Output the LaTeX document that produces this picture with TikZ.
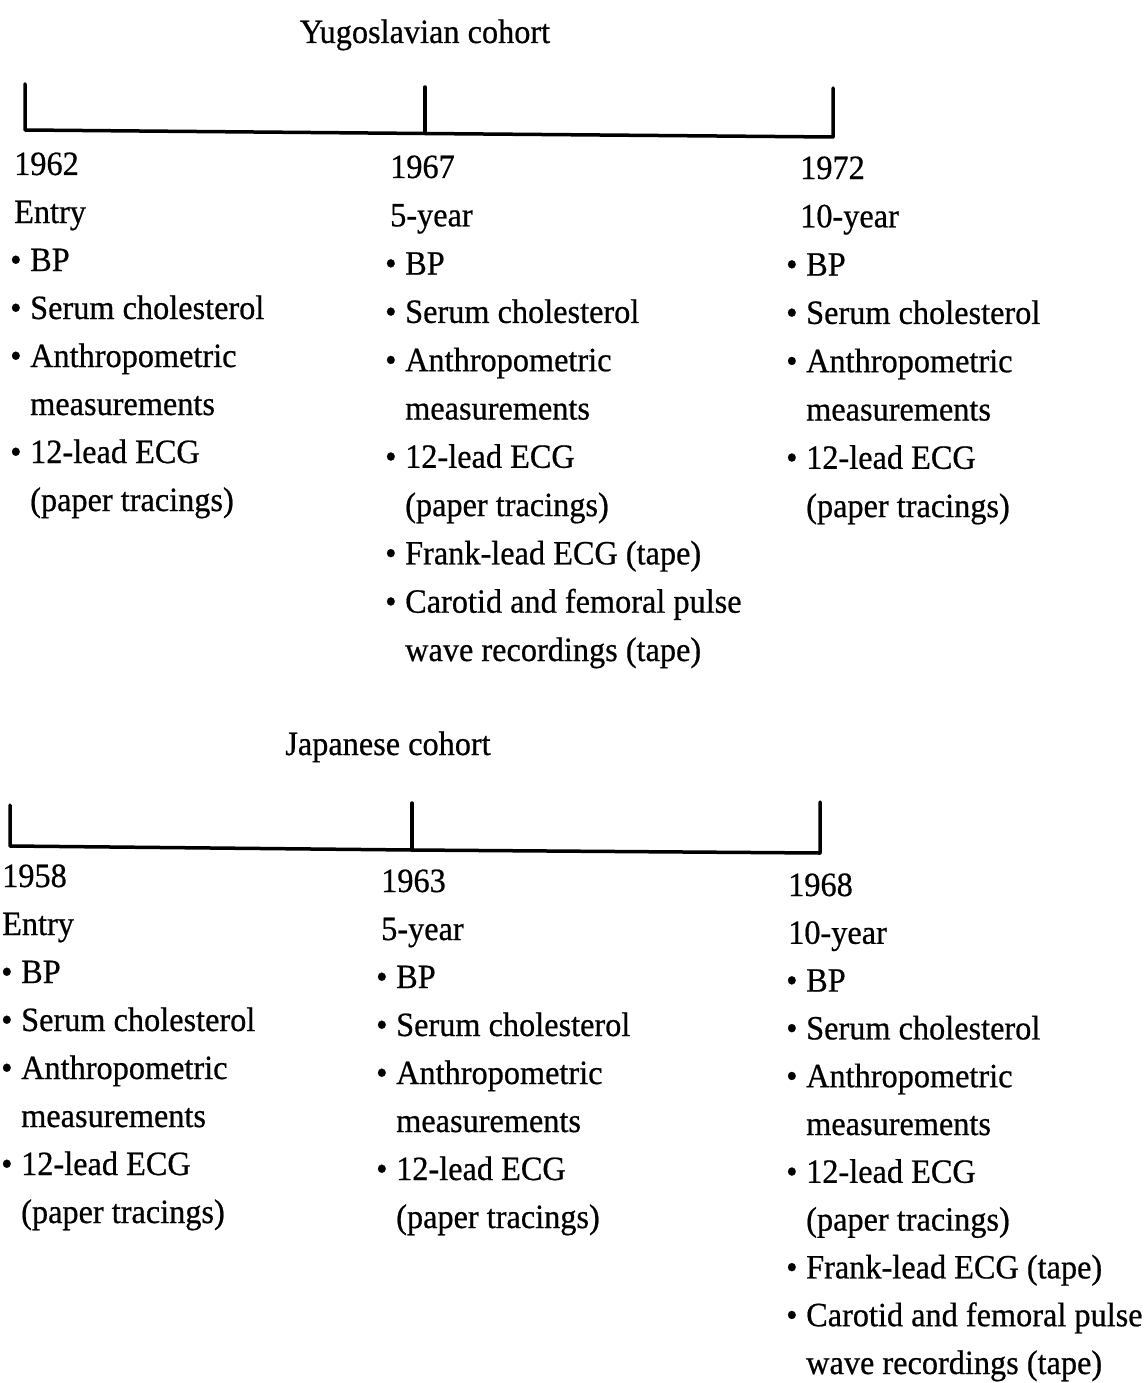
\documentclass[tikz,border=0pt]{standalone}
\usepackage{fontspec}
\setmainfont{Liberation Serif}[FakeStretch=0.95, FakeBold=0.6]
\newcommand{\bulx}{\makebox[20pt][l]{•}}
\newcommand{\indx}{\hspace*{20pt}}
\newcommand{\colnodes}[6]{%
  \foreach \t [count=\i from 0] in {#6}{%
    \ifnum\i<2 \def\xx{#2}\else\def\xx{#3}\fi
    \node[txt] (#1-\i) at (\xx, #4+\i*#5) {\t};
  }%
}
\begin{document}
\begin{tikzpicture}[x=1pt,y=-1pt,
  txt/.style={anchor=base west, inner sep=0pt, font=\fontsize{34}{40}\selectfont},
  ttl/.style={anchor=base, inner sep=0pt, font=\fontsize{34}{40}\selectfont},
  axis/.style={line width=3.5pt, line cap=round, line join=round}]
\useasboundingbox (0,0) rectangle (1145,1383);

% ---------- Yugoslavian cohort ----------
\node[ttl] (ytitle) at (425,43) {Yugoslavian cohort};
\coordinate (yLt) at (25,84);
\coordinate (yLb) at (25,130);
\coordinate (yMt) at (425,87);
\coordinate (yMb) at (425,133.5);
\coordinate (yRt) at (833,88);
\coordinate (yRb) at (833,137);
\draw[axis] (yLt) -- (yLb) -- (yMb) -- (yRb) -- (yRt);
\draw[axis] (yMt) -- (yMb);

\colnodes{ya}{14}{10}{175}{48}{1962,Entry,\bulx BP,\bulx Serum cholesterol,\bulx Anthropometric,\indx measurements,\bulx 12-lead ECG,\indx (paper tracings)}
\colnodes{yb}{390}{385}{178}{48.3}{1967,5-year,\bulx BP,\bulx Serum cholesterol,\bulx Anthropometric,\indx measurements,\bulx 12-lead ECG,\indx (paper tracings),\bulx Frank-lead ECG (tape),\bulx Carotid and femoral pulse,\indx wave recordings (tape)}
\colnodes{yc}{800}{786}{179}{48.3}{1972,10-year,\bulx BP,\bulx Serum cholesterol,\bulx Anthropometric,\indx measurements,\bulx 12-lead ECG,\indx (paper tracings)}

% ---------- Japanese cohort ----------
\node[ttl] (jtitle) at (388,755) {Japanese cohort};
\coordinate (jLt) at (10,805);
\coordinate (jLb) at (10,846);
\coordinate (jMt) at (412,803);
\coordinate (jMb) at (412,850);
\coordinate (jRt) at (820,802);
\coordinate (jRb) at (820,853);
\draw[axis] (jLt) -- (jLb) -- (jMb) -- (jRb) -- (jRt);
\draw[axis] (jMt) -- (jMb);

\colnodes{ja}{2}{1}{887}{48}{1958,Entry,\bulx BP,\bulx Serum cholesterol,\bulx Anthropometric,\indx measurements,\bulx 12-lead ECG,\indx (paper tracings)}
\colnodes{jb}{381}{376}{892}{48}{1963,5-year,\bulx BP,\bulx Serum cholesterol,\bulx Anthropometric,\indx measurements,\bulx 12-lead ECG,\indx (paper tracings)}
\colnodes{jc}{788}{786}{896}{47.8}{1968,10-year,\bulx BP,\bulx Serum cholesterol,\bulx Anthropometric,\indx measurements,\bulx 12-lead ECG,\indx (paper tracings),\bulx Frank-lead ECG (tape),\bulx Carotid and femoral pulse,\indx wave recordings (tape)}
\end{tikzpicture}
\end{document}
